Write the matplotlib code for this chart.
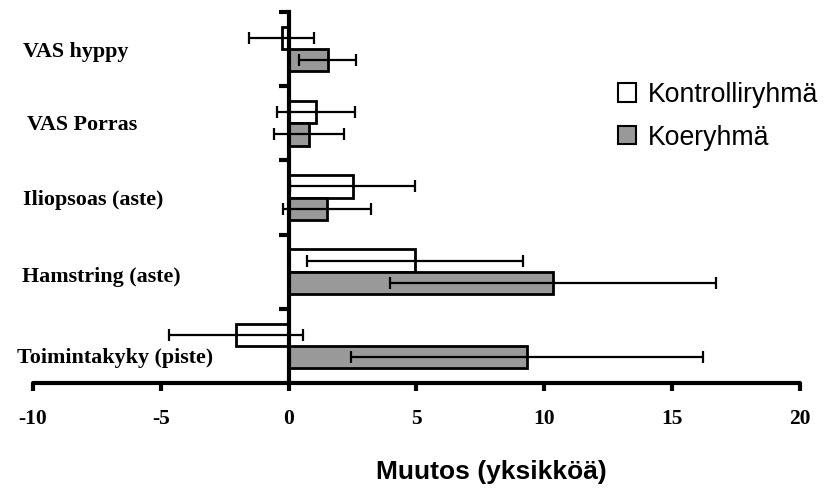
import numpy as np
import matplotlib
matplotlib.use('Agg')
import matplotlib.pyplot as plt
from matplotlib.patches import Patch
from matplotlib.transforms import blended_transform_factory

# data, bottom to top
categories = ['Toimintakyky (piste)', 'Hamstring (aste)', 'Iliopsoas (aste)', 'VAS Porras', 'VAS hyppy']
control_mean = [-2.06, 4.95, 2.5, 1.07, -0.27]
control_err = [2.61, 4.22, 2.45, 1.52, 1.27]
koe_mean = [9.32, 10.33, 1.5, 0.8, 1.52]
koe_err = [6.9, 6.37, 1.72, 1.38, 1.13]
series_labels = ['Kontrolliryhmä', 'Koeryhmä']
xticks = [-10, -5, 0, 5, 10, 15, 20]

# label tweaks (layout only): dy in data units, x in figure px
label_dy = [-0.16, -0.07, -0.03, -0.02, -0.04]
label_x = [17, 22, 23, 27, 23]

serif = 'Liberation Serif'
sans = 'Liberation Sans'

W, H = 826, 491
fig = plt.figure(figsize=(W / 100, H / 100), dpi=100)
ax = fig.add_axes([33 / W, 1 - 383 / H, (800 - 33) / W, (383 - 12) / H])

y = np.arange(len(categories))
h = 0.3
errkw = dict(ecolor='black', elinewidth=1.6, capsize=4.3, capthick=1.6)
ax.barh(y + h / 2, control_mean, height=h, color='white', edgecolor='black', linewidth=2,
        xerr=control_err, error_kw=errkw, label=series_labels[0], zorder=2)
ax.barh(y - h / 2, koe_mean, height=h, color='#999999', edgecolor='black', linewidth=2,
        xerr=koe_err, error_kw=errkw, label=series_labels[1], zorder=2)

ax.set_xlim(-10, 20)
ax.set_ylim(-0.5, len(categories) - 0.5)

ax.spines['top'].set_visible(False)
ax.spines['right'].set_visible(False)
ax.spines['left'].set_position(('data', 0))
ax.spines['left'].set_linewidth(3)
ax.spines['left'].set_zorder(3)
ax.spines['bottom'].set_linewidth(3)
ax.spines['bottom'].set_capstyle('round')

ax.set_xticks(xticks)
ax.set_xticklabels([str(t) for t in xticks], fontfamily=serif, fontweight='bold', fontsize=15.5)
ax.tick_params(axis='x', direction='out', length=6, width=3, pad=13)
ax.set_yticks(np.arange(len(categories)) + 0.5)
ax.set_yticklabels([])
ax.tick_params(axis='y', direction='out', length=7, width=3)

tr = blended_transform_factory(fig.transFigure, ax.transData)
for i, name in enumerate(categories):
    ax.text(label_x[i] / W, y[i] + label_dy[i], name, transform=tr, ha='left', va='center',
            fontfamily=serif, fontweight='bold', fontsize=15.8)

fig.text(491 / W, 1 - 472 / H, 'Muutos (yksikköä)', ha='center', va='center',
         fontfamily=sans, fontweight='bold', fontsize=19)

handles = [Patch(facecolor='white', edgecolor='black', linewidth=1.5),
           Patch(facecolor='#999999', edgecolor='black', linewidth=1.5)]
fig.legend(handles, series_labels, loc='upper left', bbox_to_anchor=(594 / W, 1 - 58 / H),
           frameon=False, prop={'family': sans, 'size': 19.2}, handlelength=0.68,
           handleheight=0.68, handletextpad=0.45, labelspacing=0.62)

fig.savefig('out.png', dpi=100)
